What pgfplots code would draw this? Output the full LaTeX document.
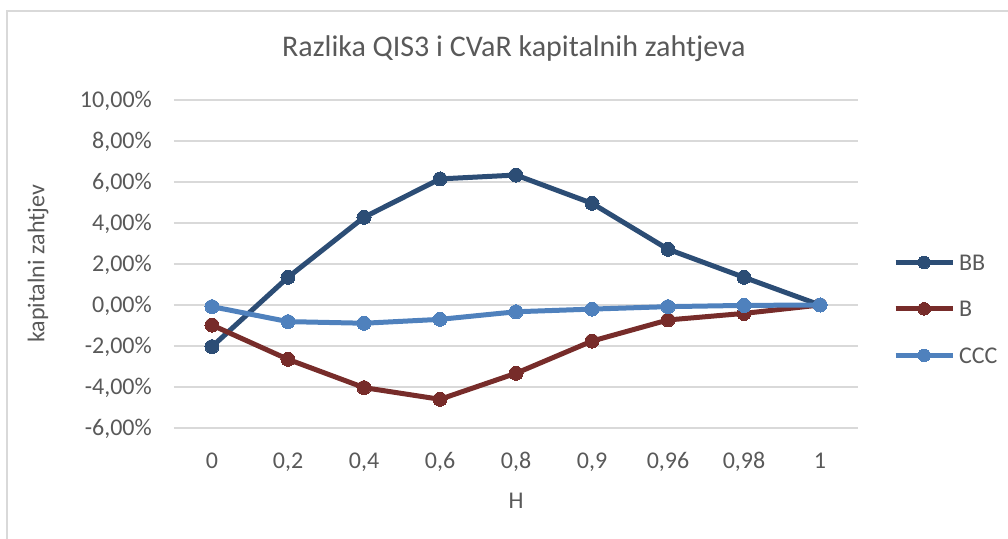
\documentclass[border=0pt]{standalone}
\usepackage{pgfplots}
\pgfplotsset{compat=1.18}
\usepackage{fontspec}
\setmainfont{Carlito}
\definecolor{txt}{HTML}{595959}
\definecolor{gridc}{HTML}{D9D9D9}
\definecolor{cBB}{HTML}{2C4D75}
\definecolor{cB}{HTML}{772C2A}
\definecolor{cCCC}{HTML}{4F81BD}
\begin{document}
\begin{tikzpicture}
\useasboundingbox (-174bp,-111bp) rectangle (834bp,428bp);
\draw[gridc, line width=1.5bp] (-167bp,-115bp) -- (-167bp,417bp) -- (840bp,417bp);
\begin{axis}[
  scale only axis, width=684bp, height=328bp,
  at={(0,0)}, anchor=south west,
  xmin=-0.5, xmax=8.5, ymin=-6, ymax=10,
  xtick={0,...,8},
  xticklabels={0,{0,2},{0,4},{0,6},{0,8},{0,9},{0,96},{0,98},1},
  ytick={-6,-4,-2,0,2,4,6,8,10},
  yticklabels={{-6,00\%},{-4,00\%},{-2,00\%},{0,00\%},{2,00\%},{4,00\%},{6,00\%},{8,00\%},{10,00\%}},
  axis line style={draw=none},
  major tick style={draw=none},
  ymajorgrids, grid style={gridc, line width=1.5bp},
  tick label style={font=\fontsize{24bp}{26bp}\selectfont, text=txt, inner sep=0pt},
  xticklabel style={anchor=base, yshift=-40bp},
  yticklabel style={anchor=base east, xshift=-22bp, yshift=-7.5bp},
  legend style={draw=none, fill=none, at={(rel axis cs:1.047,0.363)}, anchor=west,
    font=\fontsize{24bp}{26bp}\selectfont, text=txt, row sep=31bp,
    nodes={inner sep=0pt, text depth=0pt}},
  legend cell align=left,
  legend image code/.code={\draw[mark repeat=2,mark phase=2,#1, mark size=6.3bp, line width=4.7bp] plot coordinates {(0bp,0bp) (28.5bp,0bp) (57bp,0bp)};},
  every axis plot/.append style={line width=5bp, mark=*, mark size=7bp},
  clip=false,
]
\addplot[cBB, mark options={fill=cBB, draw=cBB, line width=0pt}] coordinates {
(0,-2.03) (1,1.35) (2,4.28) (3,6.15) (4,6.34) (5,4.96) (6,2.72) (7,1.35) (8,0)};
\addlegendentry{\hspace{4bp}BB}
\addplot[cB, mark options={fill=cB, draw=cB, line width=0pt}] coordinates {
(0,-0.98) (1,-2.65) (2,-4.03) (3,-4.60) (4,-3.33) (5,-1.76) (6,-0.73) (7,-0.41) (8,0)};
\addlegendentry{\hspace{4bp}B}
\addplot[cCCC, mark options={fill=cCCC, draw=cCCC, line width=0pt}] coordinates {
(0,-0.08) (1,-0.81) (2,-0.89) (3,-0.70) (4,-0.33) (5,-0.20) (6,-0.08) (7,-0.02) (8,0)};
\addlegendentry{\hspace{4bp}CCC}
\node[font=\fontsize{30bp}{32bp}\selectfont, text=txt, anchor=base] at (rel axis cs:0.497,1) [yshift=43bp] {Razlika QIS3 i CVaR kapitalnih zahtjeva};
\node[font=\fontsize{24bp}{26bp}\selectfont, text=txt, anchor=base] at (rel axis cs:0.5,0) [yshift=-80bp] {H};
\node[font=\fontsize{24bp}{26bp}\selectfont, text=txt, rotate=90, anchor=center] at (rel axis cs:-0.1988,0.5) {kapitalni zahtjev};
\end{axis}
\end{tikzpicture}
\end{document}
